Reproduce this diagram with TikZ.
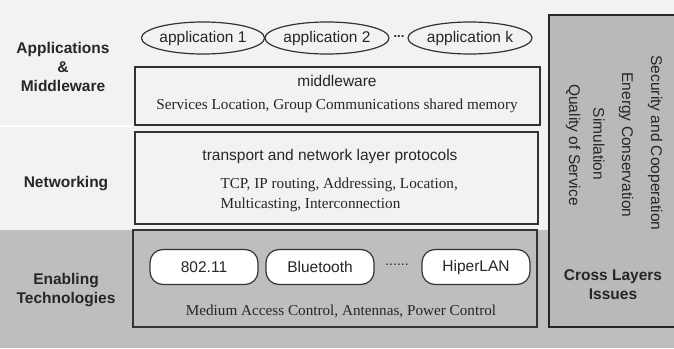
\documentclass[tikz,border=0pt]{standalone}
\usepackage{fontspec}
\setmainfont{Liberation Serif}
\setsansfont{Liberation Sans}
\usetikzlibrary{shapes.geometric}

\definecolor{paper}{HTML}{F2F2F2}
\definecolor{band}{HTML}{BEBEBE}
\definecolor{crossgray}{HTML}{B9B9B9}

\tikzset{
  layerbox/.style={draw=black!80, line width=1.6pt},
  rowlabel/.style={font=\sffamily\bfseries\fontsize{15.5}{19}\selectfont, align=center, text=black!85},
  sanstext/.style={font=\sffamily\fontsize{15.5}{18}\selectfont, text=black!85},
  seriftext/.style={font=\rmfamily\fontsize{15.2}{20}\selectfont, text=black!85},
  appnode/.style={ellipse, draw=black!80, line width=1.2pt, inner sep=0pt,
    minimum width=122, minimum height=32, font=\sffamily\fontsize{15.5}{17}\selectfont, text=black!85},
  technode/.style={rectangle, rounded corners=13pt, draw=black!80, fill=white, line width=1.2pt,
    minimum width=108, minimum height=35, font=\sffamily\fontsize{15.5}{17}\selectfont, text=black!85},
  crosstext/.style={font=\sffamily\fontsize{15.5}{17}\selectfont, rotate=-90, text=black!85}
}

\begin{document}
\begin{tikzpicture}[x=1pt,y=-1pt]
\useasboundingbox (0,0) rectangle (674,348);
% background bands
\fill[paper] (0,0) rectangle (674,348);
\fill[band] (0,230) rectangle (674,348);
\draw[white, line width=2pt] (0,126) -- (133,126);

% row labels
\node[rowlabel] (appslabel) at (63,67) {Applications\\\&\\Middleware};
\node[rowlabel] (netlabel) at (66,184) {Networking};
\node[rowlabel] (techlabel) at (66,290) {Enabling\\Technologies};

% applications
\node[appnode] (app1) at (203,38) {application 1};
\node[appnode, minimum width=124] (app2) at (327,38) {application 2};
\node[sanstext, font=\sffamily\bfseries\fontsize{13}{14}\selectfont] (appdots) at (399,37) {...};
\node[appnode, minimum width=124] (appk) at (470,38) {application k};

% middleware
\draw[layerbox, fill=paper] (135,67) rectangle (540,125);
\node[sanstext] (mwtitle) at (337,81) {middleware};
\node[seriftext] (mwtext) at (337,106) {Services Location, Group Communications shared memory};

% networking
\draw[layerbox, fill=paper] (135,132) rectangle (538,224);
\node[sanstext] (nettitle) at (330,156) {transport and network layer protocols};
\node[seriftext, align=left, anchor=west] (nettext) at (217,195) {TCP, IP routing, Addressing, Location,\\Multicasting, Interconnection};

% enabling technologies
\draw[layerbox, fill=band] (133,230) rectangle (537,327);
\node[technode] (wifi) at (204,267) {802.11};
\node[technode, minimum width=108] (bt) at (320,267) {Bluetooth};
\node[sanstext, font=\sffamily\fontsize{14}{15}\selectfont] (techdots) at (397,265) {......};
\node[technode, minimum width=108] (hiperlan) at (476,267) {HiperLAN};
\node[seriftext] (mactext) at (341,311) {Medium Access Control, Antennas, Power Control};

% cross layers
\fill[crossgray] (549,15) rectangle (676,327);
\draw[black!85, line width=2pt] (676,15) -- (549,15) -- (549,327) -- (676,327);
\node[crosstext] (security) at (655,143) {Security and Cooperation};
\node[crosstext] (energy) at (626,145) {Energy Conservation};
\node[crosstext] (simulation) at (599,144) {Simulation};
\node[crosstext] (quality) at (573,145) {Quality of Service};
\node[rowlabel] (crosslabel) at (613,285) {Cross Layers\\Issues};
\end{tikzpicture}
\end{document}
